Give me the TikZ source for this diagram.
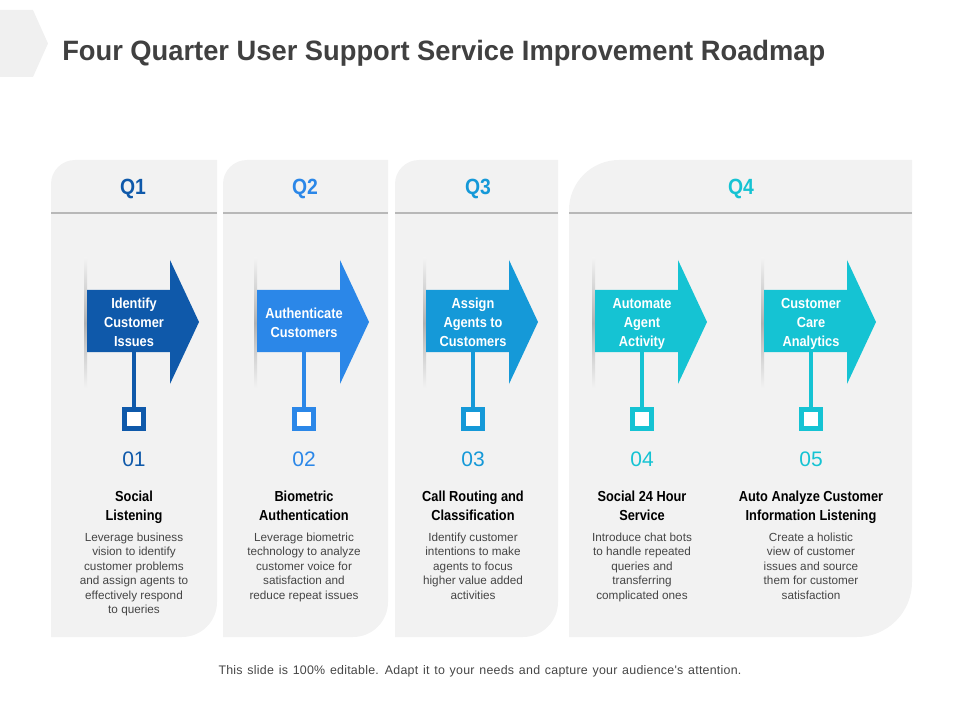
\documentclass[tikz,border=0pt]{standalone}
\usepackage{fontspec}
\setmainfont{Liberation Sans}
\newfontfamily\condfont{Liberation Sans}[FakeStretch=0.88]
\newfontfamily\titlefont{Liberation Sans}[FakeStretch=0.975]
\newfontfamily\notefont{Liberation Sans}[LetterSpace=2]
\definecolor{cardgray}{HTML}{F2F2F2}
\definecolor{tabgray}{HTML}{F0F0F0}
\definecolor{linegray}{HTML}{B8B8B8}
\definecolor{titlegray}{HTML}{404040}
\definecolor{textgray}{HTML}{454545}
\definecolor{qone}{HTML}{0F59AA}
\definecolor{qtwo}{HTML}{2B87E8}
\definecolor{qthree}{HTML}{1599D8}
\definecolor{qfour}{HTML}{15C3D3}
\begin{document}
\begin{tikzpicture}[x=0.75pt,y=-0.75pt,
    card/.style={fill=cardgray},
    headline/.style={draw=linegray,line width=2.2pt},
    qlabel/.style={font=\condfont\bfseries\fontsize{16.5}{18}\selectfont,inner sep=0,anchor=base},
    arrowtext/.style={font=\condfont\bfseries\fontsize{10.9}{14.25}\selectfont,text=white,align=center,inner sep=0},
    marker/.style={draw,line width=3.6pt,fill=white,minimum size=14.5pt,inner sep=0},
    stem/.style={line width=3pt},
    number/.style={font=\fontsize{15.75}{18}\selectfont,inner sep=0},
    heading/.style={font=\condfont\bfseries\fontsize{10.9}{14.25}\selectfont,text=black,align=center,inner sep=0},
    desc/.style={font=\fontsize{8.8}{10.9}\selectfont,text=textgray,align=center,inner sep=0,anchor=north}]
  \useasboundingbox (0,0) rectangle (960,720);
  % title
  \fill[tabgray] (0,10) -- (33,10) -- (48,43.5) -- (33,77) -- (0,77) -- cycle;
  \node[anchor=west,inner sep=0,text=titlegray,font=\titlefont\bfseries\fontsize{21}{24}\selectfont] (title) at (62,53)
    {Four Quarter User Support Service Improvement Roadmap};
  % quarter cards
  \foreach \l/\r/\ra/\rb/\qc/\q/\col in {51/217/24/35/133/Q1/qone, 223/388/24/35/305/Q2/qtwo,
      395/558/24/35/478/Q3/qthree, 569/912/50/55/741/Q4/qfour}{
    \fill[card] (\l,637) -- (\l,160+\ra) arc[start angle=180,end angle=270,radius=\ra]
      -- (\r,160) -- (\r,637-\rb) arc[start angle=0,end angle=90,radius=\rb] -- cycle;
    \draw[headline] (\l,213) -- (\r,213);
    \node[qlabel,text=\col] (\q) at (\qc,195) {\q};
  }
  % steps
  \foreach [count=\i] \c/\col/\lab/\num/\head/\desc in {
      134/qone/{Identify\\Customer\\Issues}/01/{Social\\Listening}/{Leverage business\\vision to identify\\customer problems\\and assign agents to\\effectively respond\\to queries},
      304/qtwo/{Authenticate\\Customers}/02/{Biometric\\Authentication}/{Leverage biometric\\technology to analyze\\customer voice for\\satisfaction and\\reduce repeat issues},
      473/qthree/{Assign\\Agents to\\Customers}/03/{Call Routing and\\Classification}/{Identify customer\\intentions to make\\agents to focus\\higher value added\\activities},
      642/qfour/{Automate\\Agent\\Activity}/04/{Social 24 Hour\\Service}/{Introduce chat bots\\to handle repeated\\queries and\\transferring\\complicated ones},
      811/qfour/{Customer\\Care\\Analytics}/05/{Auto Analyze Customer\\Information Listening}/{Create a holistic\\view of customer\\issues and source\\them for customer\\satisfaction}}{
    \shade[top color=cardgray,bottom color=cardgray,middle color=black!30] (\c-50,258) rectangle (\c-47,388);
    \fill[\col] (\c-47,290) -- (\c+36,290) -- (\c+36,260) -- (\c+65,322) -- (\c+36,384)
      -- (\c+36,352) -- (\c-47,352) -- cycle;
    \node[arrowtext] (a\i) at (\c,324) {\strut\lab\strut};
    \coordinate (b\i) at (\c,352);
    \node[marker,draw=\col] (s\i) at (\c,419) {};
    \draw[stem,\col] (b\i) -- (s\i);
    \node[number,text=\col] (n\i) at (\c,459) {\num};
    \node[heading] (h\i) at (\c,507.5) {\strut\head\strut};
    \node[desc] (d\i) at (\c,532.5) {\desc};
  }
  % footer
  \node[inner sep=0,text=textgray,font=\notefont\fontsize{9.3}{11}\selectfont] (note) at (480,671)
    {\spaceskip=3.6pt This slide is 100\% editable. Adapt it to your needs and capture your audience's attention.};
\end{tikzpicture}
\end{document}
